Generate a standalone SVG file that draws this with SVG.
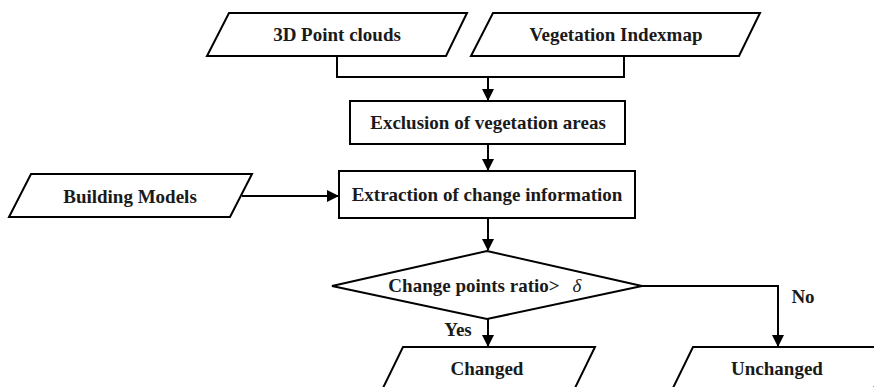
<svg xmlns="http://www.w3.org/2000/svg" width="874" height="387" viewBox="0 0 874 387">
<style>
.s{fill:#fff;stroke:#000;stroke-width:2}
.t{font-family:"Liberation Serif","DejaVu Serif","Times New Roman",serif;font-weight:bold;font-size:19px;fill:#1a1a1a;text-anchor:middle}
.c{fill:none;stroke:#000;stroke-width:2}
</style>
<defs>
<marker id="ah" markerWidth="12" markerHeight="12" refX="11" refY="6" orient="auto" markerUnits="userSpaceOnUse">
<path d="M0,0 L12,6 L0,12 Z" fill="#000"/>
</marker>
</defs>
<rect width="874" height="387" fill="#fff"/>
<g id="connectors">
<polyline class="c" points="337,56 337,77 624,77 624,56"/>
<line class="c" x1="488" y1="77" x2="488" y2="100" marker-end="url(#ah)"/>
<line class="c" x1="488" y1="144" x2="488" y2="170" marker-end="url(#ah)"/>
<line class="c" x1="242" y1="196" x2="338" y2="196" marker-end="url(#ah)"/>
<line class="c" x1="488" y1="218" x2="488" y2="250" marker-end="url(#ah)"/>
<line class="c" x1="488" y1="319" x2="488" y2="346" marker-end="url(#ah)"/>
<polyline class="c" points="642,286 778,286 778,346" marker-end="url(#ah)"/>
<text class="t" x="458" y="336">Yes</text>
<text class="t" x="803" y="303">No</text>
</g>
<g id="pointclouds">
<polygon class="s" points="229,13 467,13 446,56 207,56"/>
<text class="t" x="337" y="41">3D Point clouds</text>
</g>
<g id="vegindex">
<polygon class="s" points="493,13 760,13 739,56 471,56"/>
<text class="t" x="616" y="41">Vegetation Indexmap</text>
</g>
<g id="exclusion">
<rect class="s" x="350" y="101" width="275" height="43"/>
<text class="t" x="488" y="129">Exclusion of vegetation areas</text>
</g>
<g id="building">
<polygon class="s" points="31,174 252,174 230,217 9,217"/>
<text class="t" x="130" y="203">Building Models</text>
</g>
<g id="extraction">
<rect class="s" x="339" y="171" width="296" height="47"/>
<text class="t" x="487" y="201">Extraction of change information</text>
</g>
<g id="decision">
<polygon class="s" points="487,251 642,286 487,319 332,286"/>
<text class="t" x="474" y="292">Change points ratio&gt;</text>
<text x="577" y="292" font-family="'Liberation Serif','DejaVu Serif',serif" font-style="italic" font-size="19" fill="#1a1a1a" text-anchor="middle">δ</text>
</g>
<g id="changed">
<polygon class="s" points="403,347 595,347 574,390 382,390"/>
<text class="t" x="487" y="375">Changed</text>
</g>
<g id="unchanged">
<polygon class="s" points="693,347 894,347 873,390 672,390"/>
<text class="t" x="777" y="375">Unchanged</text>
</g>
</svg>
